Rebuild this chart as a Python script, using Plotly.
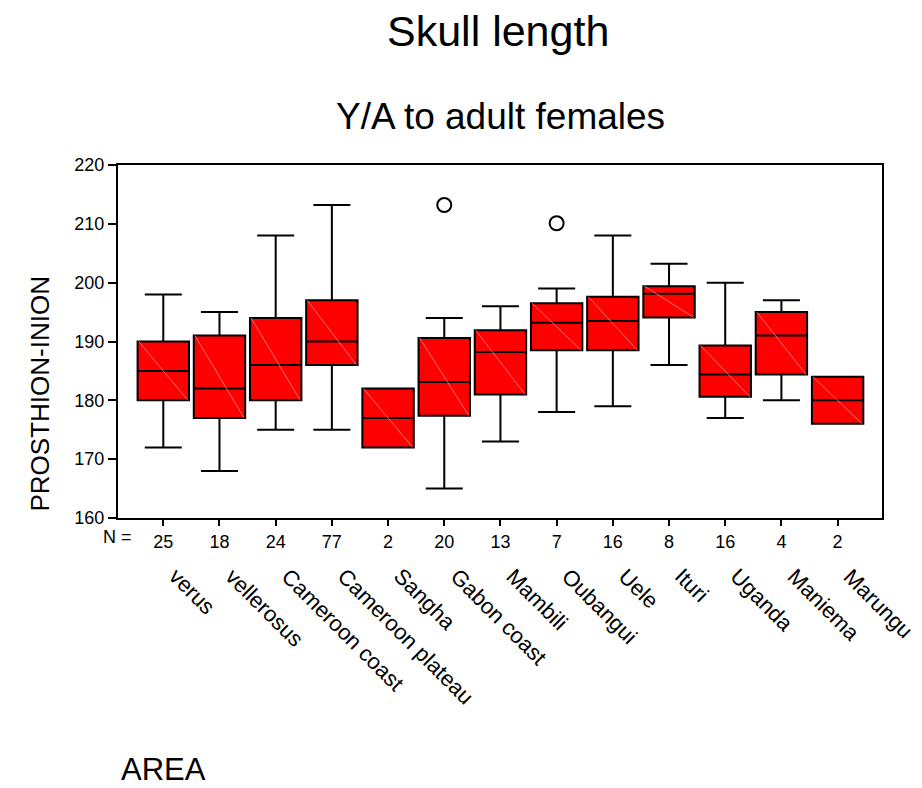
import plotly.graph_objects as go

areas = ["verus", "vellerosus", "Cameroon coast", "Cameroon plateau", "Sangha",
         "Gabon coast", "Mambili", "Oubangui", "Uele", "Ituri", "Uganda",
         "Maniema", "Marungu"]
n_counts = [25, 18, 24, 77, 2, 20, 13, 7, 16, 8, 16, 4, 2]
lower_fence = [172, 168, 175, 175, 172, 165, 173, 178, 179, 186, 177, 180, 176]
q1_vals = [180, 177, 180, 186, 172, 177.4, 181, 188.5, 188.5, 194.1, 180.6, 184.4, 176]
median_vals = [185, 182, 186, 190, 177, 183.1, 188.2, 193.2, 193.5, 198.1, 184.4, 191, 180]
q3_vals = [190, 191, 194, 197, 182, 190.6, 191.9, 196.5, 197.6, 199.4, 189.3, 195, 184]
upper_fence = [198, 195, 208, 213.2, 182, 194, 196, 199, 208, 203.2, 200, 197, 184]
outlier_area = ["Gabon coast", "Oubangui"]
outlier_vals = [213.2, 210.1]
y_ticks = [160, 170, 180, 190, 200, 210, 220]

FONT = "Liberation Sans, Arial, sans-serif"
BOX_W = 0.915
pos = list(range(len(areas)))

fig = go.Figure()
fig.add_trace(go.Box(
    x=pos, q1=q1_vals, median=median_vals, q3=q3_vals,
    lowerfence=lower_fence, upperfence=upper_fence,
    width=BOX_W, whiskerwidth=0.72, boxpoints=False,
    fillcolor="#ff0000", line=dict(color="black", width=2),
    showlegend=False, hoverinfo="skip",
))

# faint diagonal hatch line inside each box
for i in pos:
    fig.add_trace(go.Scatter(
        x=[i - BOX_W / 2 + 0.02, i + BOX_W / 2 - 0.02], y=[q3_vals[i], q1_vals[i]],
        mode="lines", line=dict(color="#ff8c8c", width=0.8),
        showlegend=False, hoverinfo="skip",
    ))

fig.add_trace(go.Scatter(
    x=[areas.index(a) for a in outlier_area], y=outlier_vals,
    mode="markers",
    marker=dict(symbol="circle-open", size=14, color="black", line=dict(width=2)),
    showlegend=False, hoverinfo="skip",
))

annotations = []
for i, name in enumerate(areas):
    annotations.append(dict(
        x=i, y=-0.122, xref="x", yref="paper", text=name, showarrow=False,
        textangle=45, xanchor="left", yanchor="top", xshift=-2,
        font=dict(family=FONT, size=22, color="black"),
    ))
annotations += [
    dict(x=-0.0, y=-0.055, xref="paper", yref="paper", text="N =", showarrow=False,
         xanchor="right", yanchor="middle", xshift=16,
         font=dict(family=FONT, size=18, color="black")),
    dict(x=0.497, y=(518 - 31) / 353, xref="paper", yref="paper", text="Skull length",
         showarrow=False, xanchor="center", yanchor="middle",
         font=dict(family=FONT, size=43, color="black")),
    dict(x=0.5, y=(518 - 116) / 353, xref="paper", yref="paper", text="Y/A to adult females",
         showarrow=False, xanchor="center", yanchor="middle",
         font=dict(family=FONT, size=37, color="black")),
    dict(x=(119 - 118) / 764, y=(518 - 769) / 353, xref="paper", yref="paper", text="AREA",
         showarrow=False, xanchor="left", yanchor="middle",
         font=dict(family=FONT, size=31, color="black")),
    dict(x=(39.5 - 118) / 764, y=(518 - 394) / 353, xref="paper", yref="paper",
         text="PROSTHION-INION", showarrow=False, textangle=-90,
         xanchor="center", yanchor="middle",
         font=dict(family=FONT, size=26, color="black")),
]

fig.update_layout(
    width=922, height=788,
    margin=dict(l=118, r=40, t=165, b=270),
    paper_bgcolor="white", plot_bgcolor="white",
    font=dict(family=FONT, size=18, color="black"),
    annotations=annotations,
    xaxis=dict(
        range=[-0.806, 12.79], tickvals=pos, ticktext=[str(v) for v in n_counts],
        showgrid=False, zeroline=False, showline=True, linecolor="black", linewidth=2,
        mirror=True, ticks="outside", ticklen=6, tickwidth=2, tickcolor="black",
        tickfont=dict(family=FONT, size=18, color="black"),
    ),
    yaxis=dict(
        range=[160, 220], tickvals=y_ticks, ticktext=[str(v) for v in y_ticks],
        showgrid=False, zeroline=False, showline=True, linecolor="black", linewidth=2,
        mirror=True, ticks="outside", ticklen=8, tickwidth=2, tickcolor="black",
        tickfont=dict(family=FONT, size=18, color="black"),
    ),
)

fig.write_html("out.html")
